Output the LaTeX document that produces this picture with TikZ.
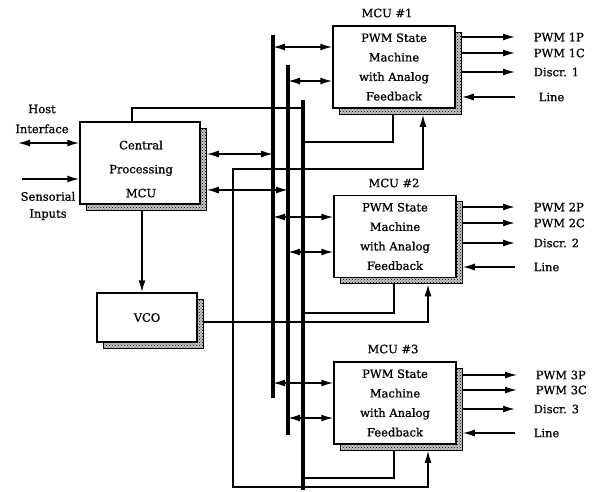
\documentclass[tikz,border=0pt]{standalone}
\usepackage{fontspec}
\setmainfont{DejaVu Serif}[FakeBold=0.8]
\usetikzlibrary{arrows.meta,shadows,patterns,calc}
\begin{document}
\begin{tikzpicture}[x=1pt,y=-1pt,
  line width=1.5pt,
  tip/.tip={Latex[length=12pt,width=7pt]},
  arr/.style={-tip},
  dbl/.style={tip-tip},
  bus/.style={line width=3.2pt},
  box/.style={draw, fill=white, rectangle, inner sep=0pt, align=center,
    general shadow={shadow xshift=6pt, shadow yshift=-6pt, fill=gray!45, draw, line width=0.8pt,
      postaction={pattern=crosshatch dots}}},
  mcu/.style={box, minimum width=122pt, minimum height=82pt,
    font=\fontsize{11.5}{19.5}\selectfont},
  txt/.style={align=center, inner sep=0pt, font=\fontsize{11.5}{24}\selectfont},
  ttl/.style={inner sep=0pt, font=\fontsize{11.5}{14}\selectfont},
  outl/.style={anchor=west, inner sep=0pt, font=\fontsize{11.5}{14}\selectfont}
]
\useasboundingbox (0,0) rectangle (604,491);

% Central processing MCU
\node[box, minimum width=120pt, minimum height=82pt] (cpu) at (140,163) {};
\node[txt] (cput) at (141,169) {Central\\Processing\\MCU};
\coordinate (cse) at ([shift={(6pt,-6pt)}]cpu.south east);

% VCO
\node[box, minimum width=100pt, minimum height=49pt, font=\fontsize{11.5}{14}\selectfont] (vco) at (147,317.5) {VCO};
\coordinate (vse) at ([shift={(6pt,-6pt)}]vco.south east);

% MCU boxes
\node[mcu] (m1) at (394,67) {PWM State\\Machine\\with Analog\\Feedback};
\node[mcu] (m2) at (395,236.5) {PWM State\\Machine\\with Analog\\Feedback};
\node[mcu] (m3) at (395,403) {PWM State\\Machine\\with Analog\\Feedback};
\coordinate (m1se) at ([shift={(6pt,-6pt)}]m1.south east);
\coordinate (m2se) at ([shift={(6pt,-6pt)}]m2.south east);
\coordinate (m3se) at ([shift={(6pt,-6pt)}]m3.south east);

\node[ttl] (t1) at (387,13) {MCU \#1};
\node[ttl] (t2) at (394,183) {MCU \#2};
\node[ttl] (t3) at (393,349) {MCU \#3};

% buses
\coordinate (b1t) at (273,35);  \coordinate (b1b) at (273,398);
\coordinate (b2t) at (288,65);  \coordinate (b2b) at (288,435);
\coordinate (b3t) at (303,100); \coordinate (b3b) at (303,490);
\draw[bus] (b1t) -- (b1b);
\draw[bus] (b2t) -- (b2b);
\draw[bus] (b3t) -- (b3b);

% host / sensorial
\node[txt, font=\fontsize{11.5}{20}\selectfont] (host) at (42,119) {Host\\Interface};
\node[txt, font=\fontsize{11.5}{17}\selectfont] (sens) at (48,206) {Sensorial\\Inputs};
\coordinate (hi) at (18,143);
\coordinate (si) at (22,179);
\draw[dbl] (hi) -- (cpu.west |- hi);
\draw[arr] (si) -- (cpu.west |- si);

% CPU to buses
\draw[dbl] (cse |- 0,154) -- (b1t |- 0,154);
\draw[dbl] (cse |- 0,190) -- (b2t |- 0,190);
\draw (132,0 |- cpu.north) -- (132,108) -- (b3t |- 0,108);

% CPU to VCO
\draw[arr] (142,0 |- cse) -- (142,0 |- vco.north);

% buses to MCUs
\draw[dbl] (b1t |- 0,47) -- (m1.west |- 0,47);
\draw[dbl] (b2t |- 0,81) -- (m1.west |- 0,81);
\draw[dbl] (b1t |- 0,217) -- (m2.west |- 0,217);
\draw[dbl] (b2t |- 0,252) -- (m2.west |- 0,252);
\draw[dbl] (b1t |- 0,383) -- (m3.west |- 0,383);
\draw[dbl] (b2t |- 0,418) -- (m3.west |- 0,418);

% MCU feedback to bus 3
\draw (393,0 |- m1se) -- (393,142) -- (b3t |- 0,142);
\draw (394,0 |- m2se) -- (394,313) -- (b3t |- 0,313);
\draw (394,0 |- m3se) -- (394,478) -- (b3t |- 0,478);

% VCO clock distribution
\draw[arr] (vse |- 0,322) -- (428,322) -- (428,0 |- m2se);
\draw[arr] (233,322) -- (233,169) -- (423,169) -- (423,0 |- m1se);
\draw[arr] (233,322) -- (233,487) -- (428,487) -- (428,0 |- m3se);

% outputs MCU1
\node[outl] (o1a) at (533,37) {PWM 1P};
\node[outl] (o1b) at (533,53) {PWM 1C};
\node[outl] (o1c) at (533,72) {Discr. 1};
\node[outl] (o1d) at (538,97) {Line};
\draw[arr] (m1se |- o1a) -- ([xshift=-18pt]o1a.west);
\draw[arr] (m1se |- o1b) -- ([xshift=-18pt]o1b.west);
\draw[arr] (m1se |- o1c) -- ([xshift=-18pt]o1c.west);
\draw[arr] ([xshift=-23pt]o1d.west) -- (m1se |- o1d);

% outputs MCU2
\node[outl] (o2a) at (533,207) {PWM 2P};
\node[outl] (o2b) at (533,223) {PWM 2C};
\node[outl] (o2c) at (533,243) {Discr. 2};
\node[outl] (o2d) at (533,267) {Line};
\draw[arr] (m2se |- o2a) -- ([xshift=-18pt]o2a.west);
\draw[arr] (m2se |- o2b) -- ([xshift=-18pt]o2b.west);
\draw[arr] (m2se |- o2c) -- ([xshift=-18pt]o2c.west);
\draw[arr] ([xshift=-18pt]o2d.west) -- (m2se |- o2d);

% outputs MCU3
\node[outl] (o3a) at (535,375) {PWM 3P};
\node[outl] (o3b) at (535,390) {PWM 3C};
\node[outl] (o3c) at (533,409) {Discr. 3};
\node[outl] (o3d) at (533,433) {Line};
\draw[arr] (m3se |- o3a) -- ([xshift=-18pt]o3a.west);
\draw[arr] (m3se |- o3b) -- ([xshift=-18pt]o3b.west);
\draw[arr] (m3se |- o3c) -- ([xshift=-18pt]o3c.west);
\draw[arr] ([xshift=-18pt]o3d.west) -- (m3se |- o3d);
\end{tikzpicture}
\end{document}
